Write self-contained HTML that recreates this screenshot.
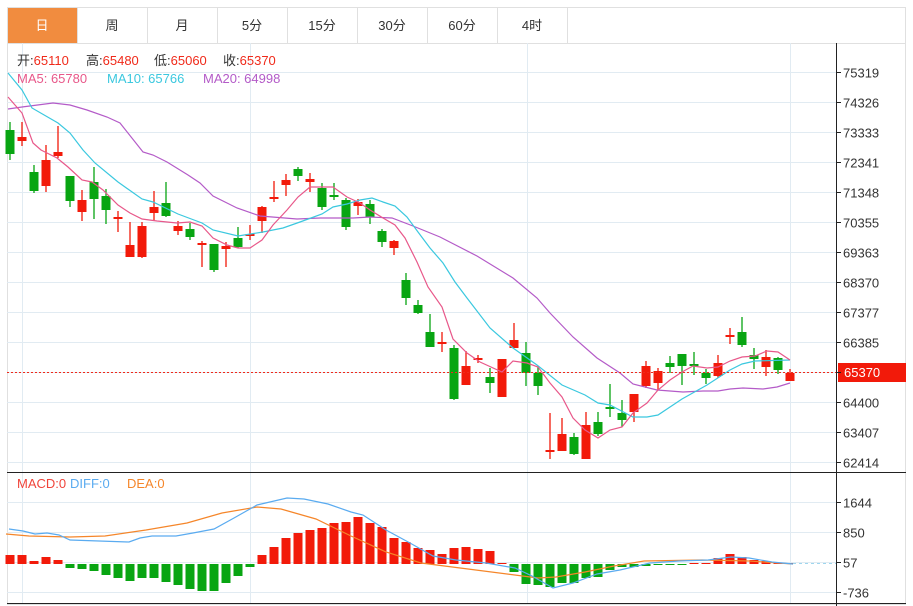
<!DOCTYPE html>
<html><head><meta charset="utf-8"><style>
body{margin:0;background:#fff;width:913px;height:606px;overflow:hidden;font-family:"Liberation Sans","Noto Sans CJK SC",sans-serif}
svg{position:absolute;left:0;top:0}
</style></head><body>
<svg id="s" width="913" height="606" xmlns="http://www.w3.org/2000/svg" font-family="Liberation Sans, Noto Sans CJK SC, sans-serif">
<rect x="7.5" y="7.5" width="898" height="597" fill="#fff" stroke="#e0e0e0"/>
<rect x="8" y="8" width="69" height="35" fill="#f18c3f"/>
<line x1="7" y1="43.5" x2="906" y2="43.5" stroke="#e0e0e0"/>
<g stroke="#e0e0e0"><line x1="77.5" y1="8" x2="77.5" y2="43"/><line x1="147.5" y1="8" x2="147.5" y2="43"/><line x1="217.5" y1="8" x2="217.5" y2="43"/><line x1="287.5" y1="8" x2="287.5" y2="43"/><line x1="357.5" y1="8" x2="357.5" y2="43"/><line x1="427.5" y1="8" x2="427.5" y2="43"/><line x1="497.5" y1="8" x2="497.5" y2="43"/><line x1="567.5" y1="8" x2="567.5" y2="43"/></g>
<g font-size="13" text-anchor="middle" fill="#333"><text x="42" y="30" fill="#fff">日</text><text x="112" y="30">周</text><text x="182" y="30">月</text><text x="252" y="30">5分</text><text x="322" y="30">15分</text><text x="392" y="30">30分</text><text x="462" y="30">60分</text><text x="532" y="30">4时</text></g>
<g id="grid" stroke="#e1ebf2" stroke-width="1"></g>
<g font-size="13">
<text x="17" y="65"><tspan fill="#333">开:</tspan><tspan fill="#f02a1a">65110</tspan></text>
<text x="86" y="65"><tspan fill="#333">高:</tspan><tspan fill="#f02a1a">65480</tspan></text>
<text x="154" y="65"><tspan fill="#333">低:</tspan><tspan fill="#f02a1a">65060</tspan></text>
<text x="223" y="65"><tspan fill="#333">收:</tspan><tspan fill="#f02a1a">65370</tspan></text>
<text x="17" y="83" fill="#e8588a">MA5: 65780</text><text x="107" y="83" fill="#3bc8df">MA10: 65766</text><text x="203" y="83" fill="#b45bc8">MA20: 64998</text>
<text x="17" y="488" fill="#f0443a">MACD:0</text><text x="70" y="488" fill="#5aabf0">DIFF:0</text><text x="127" y="488" fill="#f5862a">DEA:0</text></g>
<g id="c"></g>
<line x1="7" y1="372.5" x2="836" y2="372.5" stroke="#f02a1a" stroke-dasharray="2,2"/>
<line x1="793" y1="563.5" x2="836" y2="563.5" stroke="#9fd6ee" stroke-dasharray="3,3"/>
<line x1="836.5" y1="43" x2="836.5" y2="606" stroke="#222"/>
<line x1="7" y1="472.5" x2="906" y2="472.5" stroke="#222"/>
<line x1="7" y1="603.5" x2="906" y2="603.5" stroke="#222"/>
<rect x="838" y="363" width="68" height="19" fill="#f21a0a"/>
<text x="844" y="377" font-size="13" fill="#fff">65370</text>
<g id="ax" font-size="12" fill="#333"></g>
</svg>
<script>
var NS="http://www.w3.org/2000/svg";
function el(p,t,a){var e=document.createElementNS(NS,t);for(var k in a)e.setAttribute(k,a[k]);p.appendChild(e);return e;}
var g=document.getElementById('grid'),ax=document.getElementById('ax'),c=document.getElementById('c');
var prices=["75319","74326","73333","72341","71348","70355","69363","68370","67377","66385","","64400","63407","62414"];
for(var i=0;i<14;i++){var y=72+i*30+0.5;el(g,'line',{x1:7,y1:y,x2:836,y2:y});el(ax,'line',{x1:836,y1:y,x2:841,y2:y,stroke:'#222'});if(prices[i]){var t=el(ax,'text',{x:843,y:y+5,'font-size':13});t.textContent=prices[i];}}
var ml=[["1644",502.5],["850",532.5],["57",562.5],["-736",592.5]];
ml.forEach(function(m){el(g,'line',{x1:7,y1:m[1],x2:836,y2:m[1]});el(ax,'line',{x1:836,y1:m[1],x2:841,y2:m[1],stroke:'#222'});var t=el(ax,'text',{x:843,y:m[1]+5,'font-size':13});t.textContent=m[0];});
[22.5,250.5,527.5,790.5].forEach(function(x){el(g,'line',{x1:x,y1:43,x2:x,y2:472});el(g,'line',{x1:x,y1:473,x2:x,y2:603});});
var D=[[130,154,122,160,'g'],[137,141,122,146,'r'],[172,191,165,193,'g'],[160,186,145,192,'r'],[152,156,126,158,'r'],[176,201,176,207,'g'],[200,212,190,221,'r'],[182,199,167,219,'g'],[196,210,189,224,'g'],[217,219,211,232,'r'],[245,257,222,257,'r'],[226,257,222,258,'r'],[207,213,191,221,'r'],[203,216,182,217,'g'],[226,231,221,235,'r'],[229,237,223,240,'g'],[243,245,241,267,'r'],[244,270,244,272,'g'],[246,249,242,267,'r'],[238,247,227,248,'g'],[234,236,225,240,'r'],[207,221,206,233,'r'],[197,199,181,202,'r'],[180,185,174,196,'r'],[169,176,167,181,'g'],[179,182,173,192,'r'],[188,207,183,210,'g'],[195,197,183,200,'g'],[200,227,198,230,'g'],[202,206,199,215,'r'],[204,217,200,224,'g'],[231,242,229,247,'g'],[241,248,240,255,'r'],[280,298,273,305,'g'],[305,313,300,314,'g'],[332,347,314,347,'g'],[342,344,332,352,'r'],[348,399,345,400,'g'],[366,385,351,385,'r'],[358,360,355,363,'r'],[377,383,368,393,'g'],[359,397,359,397,'r'],[340,348,323,348,'r'],[353,373,342,386,'g'],[373,386,367,395,'g'],[450,452,413,459,'r'],[434,451,418,451,'r'],[437,454,433,455,'g'],[425,459,412,459,'r'],[422,434,412,436,'g'],[407,409,384,417,'g'],[413,420,400,427,'g'],[394,412,394,422,'r'],[366,386,361,388,'r'],[371,383,368,390,'r'],[363,367,356,373,'g'],[354,366,354,385,'g'],[364,366,352,375,'g'],[373,378,369,384,'g'],[363,376,355,378,'r'],[335,337,328,344,'r'],[332,345,317,347,'g'],[355,359,348,369,'g'],[357,367,350,376,'r'],[358,370,357,374,'g'],[373,381,369,381,'r']];
D.forEach(function(d,i){var x=10+12*i,col=d[4]=='r'?'#f21a0a':'#08a512';el(c,'line',{x1:x,y1:d[2],x2:x,y2:d[3],stroke:col,'stroke-width':1.3});var h=Math.max(d[1]-d[0],2);el(c,'rect',{x:x-4.5,y:d[0],width:9,height:h,fill:col});});
function pl(pts,col){el(c,'polyline',{points:pts,fill:'none',stroke:col,'stroke-width':1.2});}
pl("8,109 22,107 53,103 70,105 87,110 107,117 120,123 143,152 153,155 167,162 188,175 200,183 213,196 237,208 260,216 297,219 320,218 353,218 370,217 392,218 413,226 440,237 477,256 513,278 537,298 550,313 573,337 597,358 620,373 633,384 657,390 683,392 703,391 718,391 730,389 743,388 763,389 777,387 790,383","#b45bc8");
pl("8,73 22,90 32,108 58,123 70,133 83,150 95,163 118,182 142,199 153,202 178,214 202,223 213,230 238,236 263,232 283,228 300,222 322,214 333,207 347,204 360,200 372,198 383,202 395,206 407,217 418,232 430,248 443,263 455,282 467,298 490,328 513,348 537,365 562,385 585,395 598,403 610,405 633,417 647,417 658,415 682,399 707,385 730,370 742,364 755,361 790,360","#3bc8df");
pl("8,97 22,113 33,143 41,150 57,158 68,167 82,180 92,182 103,190 118,205 130,213 142,219 157,221 177,223 190,222 202,226 213,238 227,245 238,248 250,248 262,240 273,225 287,210 298,197 310,187 333,187 347,197 360,203 370,210 383,218 395,225 405,238 417,262 428,287 442,307 453,339 467,353 480,362 502,372 513,361 527,363 538,367 550,383 562,397 573,418 585,430 598,438 610,430 622,427 633,413 647,403 658,390 670,380 682,372 693,366 707,368 718,367 730,361 742,357 755,356 767,351 778,352 790,360","#e8588a");
var M=[555,555,561,557,560,568,569,571,575,578,581,578,578,582,585,589,591,591,583,576,567,555,547,538,533,530,528,523,522,517,523,527,538,542,548,550,554,548,547,549,551,563,572,584,585,587,583,583,578,577,570,567,567,566,565,565,564,563,563,558,554,557,560,561,563,563];
var z=564;M.forEach(function(v,i){var x=10+12*i,col=v<z?'#f21a0a':'#08a512';var y=Math.min(v,z),h=Math.max(Math.abs(v-z),1);el(c,'rect',{x:x-4.5,y:y,width:9,height:h,fill:col});});
pl("6,534 29,536 70,537 105,536 146,530 187,523 222,513 257,507 281,509 316,519 351,536 386,552 421,563 468,569 538,578 556,577 585,572 614,566 644,561 702,560 749,561 793,564","#f5862a");
pl("9,529 23,531 35,534 47,533 59,535 70,540 99,541 129,542 140,538 152,536 176,536 193,533 214,529 234,518 257,505 287,498 304,499 328,504 351,512 363,515 386,530 410,543 433,556 456,560 486,563 515,568 532,576 553,588 573,583 597,574 620,570 650,563 679,561 708,560 731,557 749,558 772,562 793,564","#5aabf0");
</script>
</body></html>
